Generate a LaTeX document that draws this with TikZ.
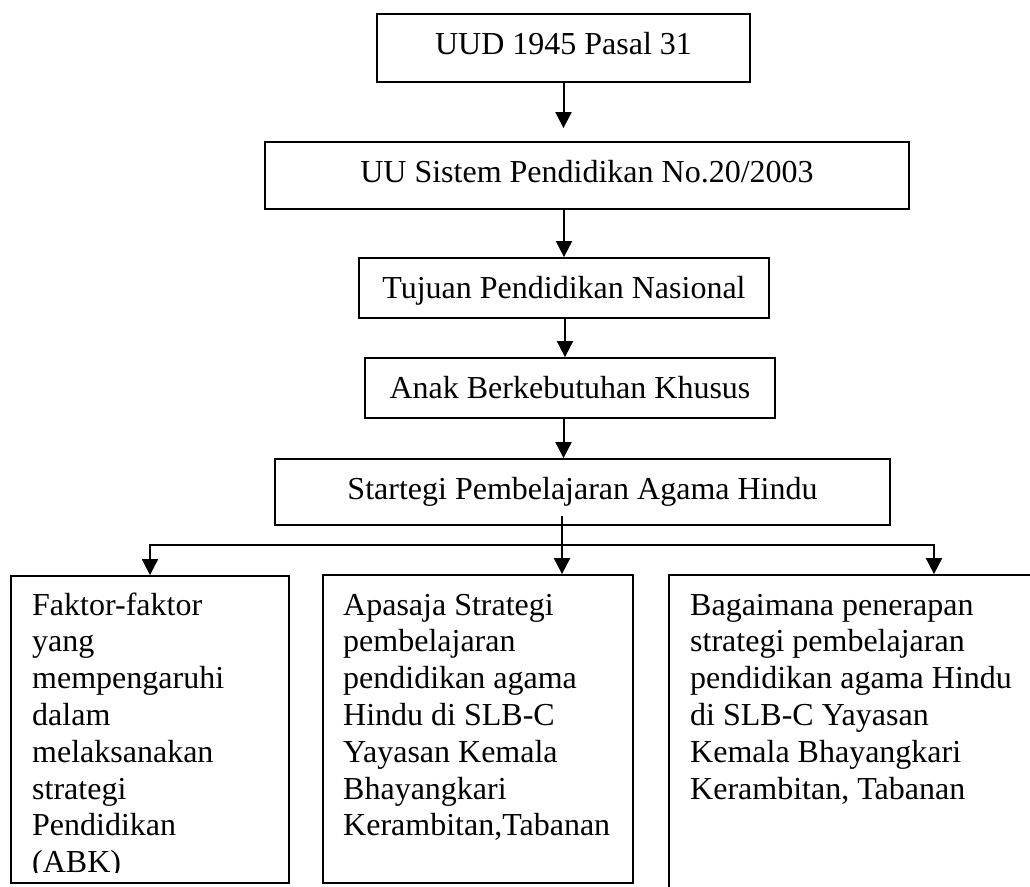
\documentclass[tikz,border=0pt]{standalone}
\usepackage{fontspec}
\setmainfont{Liberation Serif}
\usetikzlibrary{arrows.meta}
\begin{document}
\begin{tikzpicture}[x=1pt,y=-1pt,
  box/.style={draw, line width=1.8pt, inner sep=0pt, text height=22pt},
  txt/.style={anchor=base west, inner sep=0pt},
  arr/.style={line width=2pt, -{Triangle[length=16pt,width=16pt]}},
  font=\fontsize{32}{36.8}\selectfont]
\useasboundingbox (0,0) rectangle (1030,886);
\clip (0,0) rectangle (1030,886);
% top chain
\node[box, minimum width=373pt, minimum height=68pt, text depth=9pt] (b1) at (563.5,48) {UUD 1945 Pasal 31};
\node[box, minimum width=644pt, minimum height=67pt, text depth=8pt] (b2) at (587,175.5) {UU Sistem Pendidikan No.20/2003};
\node[box, minimum width=410pt, minimum height=60pt, text depth=1pt] (b3) at (564,288) {Tujuan Pendidikan Nasional};
\node[box, minimum width=410pt, minimum height=60pt, text depth=1pt] (b4) at (570,388) {Anak Berkebutuhan Khusus};
\node[box, minimum width=615pt, minimum height=66pt, text depth=7pt] (b5) at (582.5,492) {Startegi Pembelajaran Agama Hindu};
% bottom boxes
\node[box, minimum width=278pt, minimum height=307pt] (bl) at (150,729.5) {};
\node[box, minimum width=310pt, minimum height=308pt] (bm) at (478,729) {};
\node[box, minimum width=530pt, minimum height=330pt] (br) at (934,740) {};
\begin{scope}
\clip (11,576) rectangle (289,872);
\node[txt] (tl) at (32,615) {\parbox[t]{250pt}{\raggedright Faktor-faktor\\yang\\mempengaruhi\\dalam\\melaksanakan\\strategi\\Pendidikan\\(ABK)}};
\end{scope}
\node[txt] (tm) at (343,615) {\parbox[t]{285pt}{\raggedright Apasaja Strategi\\pembelajaran\\pendidikan agama\\Hindu di SLB-C\\Yayasan Kemala\\Bhayangkari\\Kerambitan,Tabanan}};
\node[txt] (tr) at (690,615) {\parbox[t]{335pt}{\raggedright Bagaimana penerapan\\strategi pembelajaran\\pendidikan agama Hindu\\di SLB-C Yayasan\\Kemala Bhayangkari\\Kerambitan, Tabanan}};
% connectors
\coordinate (split) at (562,545);
\coordinate (s0) at (562,516);
\draw[arr, shorten >=13pt] (b1.south) -- (b1.south |- b2.north);
\draw[arr] (b3.north |- b2.south) -- (b3.north);
\draw[arr] ([xshift=1pt]b3.south) -- ([xshift=1pt]b3.south |- b4.north);
\draw[arr] (b1.south |- b4.south) -- (b1.south |- b5.north);
\draw[arr] (s0) -- (split |- bm.north);
\draw[arr] (split) -| (bl.north);
\draw[arr] (split) -| (br.north);
\end{tikzpicture}
\end{document}
